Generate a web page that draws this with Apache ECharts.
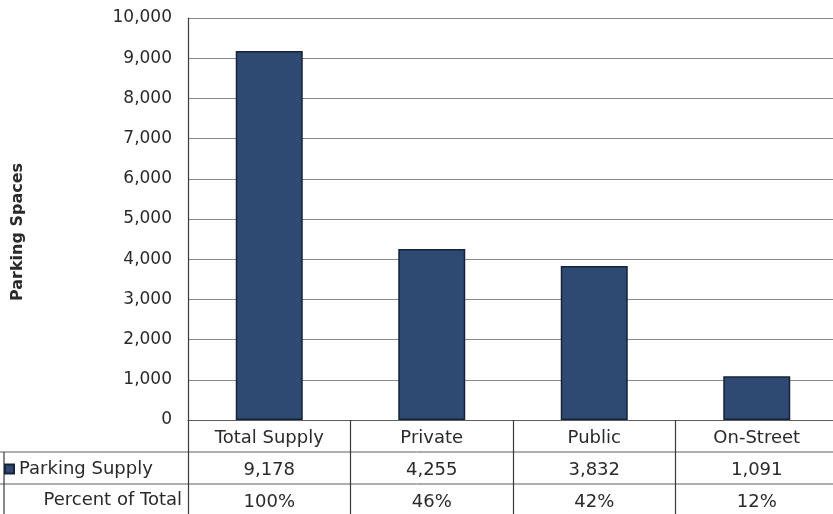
<!DOCTYPE html>
<html>
<head>
<meta charset="utf-8">
<script src="https://cdn.jsdelivr.net/npm/echarts@6/dist/echarts.min.js"></script>
<style>
html,body{margin:0;padding:0;background:#fff;}
#chart{width:833px;height:514px;}
</style>
</head>
<body>
<div id="chart"></div>
<script>
const categories = ['Total Supply', 'Private', 'Public', 'On-Street'];
const parkingSupply = [9178, 4255, 3832, 1091];
const percentOfTotal = ['100%', '46%', '42%', '12%'];
const seriesName = 'Parking Supply';
const rowLabel2 = 'Percent of Total';
const yTicks = { min: 0, max: 10000, interval: 1000 };

const FONT = 'DejaVu Sans';
const TXT = '#2a2a2a';
const LINE = '#5e5e5e';

const chart = echarts.init(document.getElementById('chart'));
const fmt = v => v.toLocaleString('en-US');

chart.setOption({
  animation: false,
  textStyle: { fontFamily: FONT },
  grid: { left: 188, top: 18, width: 650, height: 402, containLabel: false, outerBoundsMode: 'none' },
  legend: {
    data: [seriesName],
    left: -1, top: 455,
    icon: 'rect', itemWidth: 9, itemHeight: 9, itemGap: 4,
    textStyle: { fontFamily: FONT, fontSize: 18, color: TXT, letterSpacing: 0.6 },
    selectedMode: false
  },
  xAxis: {
    type: 'category',
    data: categories,
    axisLine: { show: true, lineStyle: { color: LINE, width: 1 } },
    axisTick: { show: true, alignWithLabel: false, length: 100, lineStyle: { color: '#3a3a3a', width: 1.2 } },
    axisLabel: {
      margin: 2,
      fontFamily: FONT, fontSize: 18, color: TXT, lineHeight: 32,
      formatter: (v, i) => v + '\n' + fmt(parkingSupply[i]) + '\n' + percentOfTotal[i]
    }
  },
  yAxis: {
    type: 'value',
    min: yTicks.min, max: yTicks.max, interval: yTicks.interval,
    name: 'Parking Spaces',
    nameLocation: 'middle', nameRotate: 90, nameGap: 162,
    nameTextStyle: { fontFamily: FONT, fontSize: 16, fontWeight: 'bold', color: TXT, padding: [0, 26, 0, 0] },
    axisLine: { show: true, lineStyle: { color: '#3a3a3a', width: 1.2 } },
    axisTick: { show: false },
    axisLabel: { fontFamily: FONT, fontSize: 17, color: TXT, margin: 16, formatter: v => fmt(v) },
    splitLine: { lineStyle: { color: '#888888', width: 1 } }
  },
  series: [{
    name: seriesName,
    type: 'bar',
    data: parkingSupply,
    barWidth: 67,
    itemStyle: { color: '#2e4a72', borderColor: '#15233a', borderWidth: 1.5 }
  }],
  graphic: [
    { type: 'line', shape: { x1: 0, y1: 452, x2: 833, y2: 452 }, style: { stroke: LINE, lineWidth: 1 } },
    { type: 'line', shape: { x1: 0, y1: 484, x2: 833, y2: 484 }, style: { stroke: LINE, lineWidth: 1 } },
    { type: 'line', shape: { x1: 4, y1: 452, x2: 4, y2: 514 }, style: { stroke: '#3a3a3a', lineWidth: 1.2 } },
    { type: 'text', style: { text: rowLabel2, x: 182, y: 500, align: 'right', verticalAlign: 'middle', fontFamily: FONT, fontSize: 18, fill: TXT } }
  ]
});
</script>
</body>
</html>
